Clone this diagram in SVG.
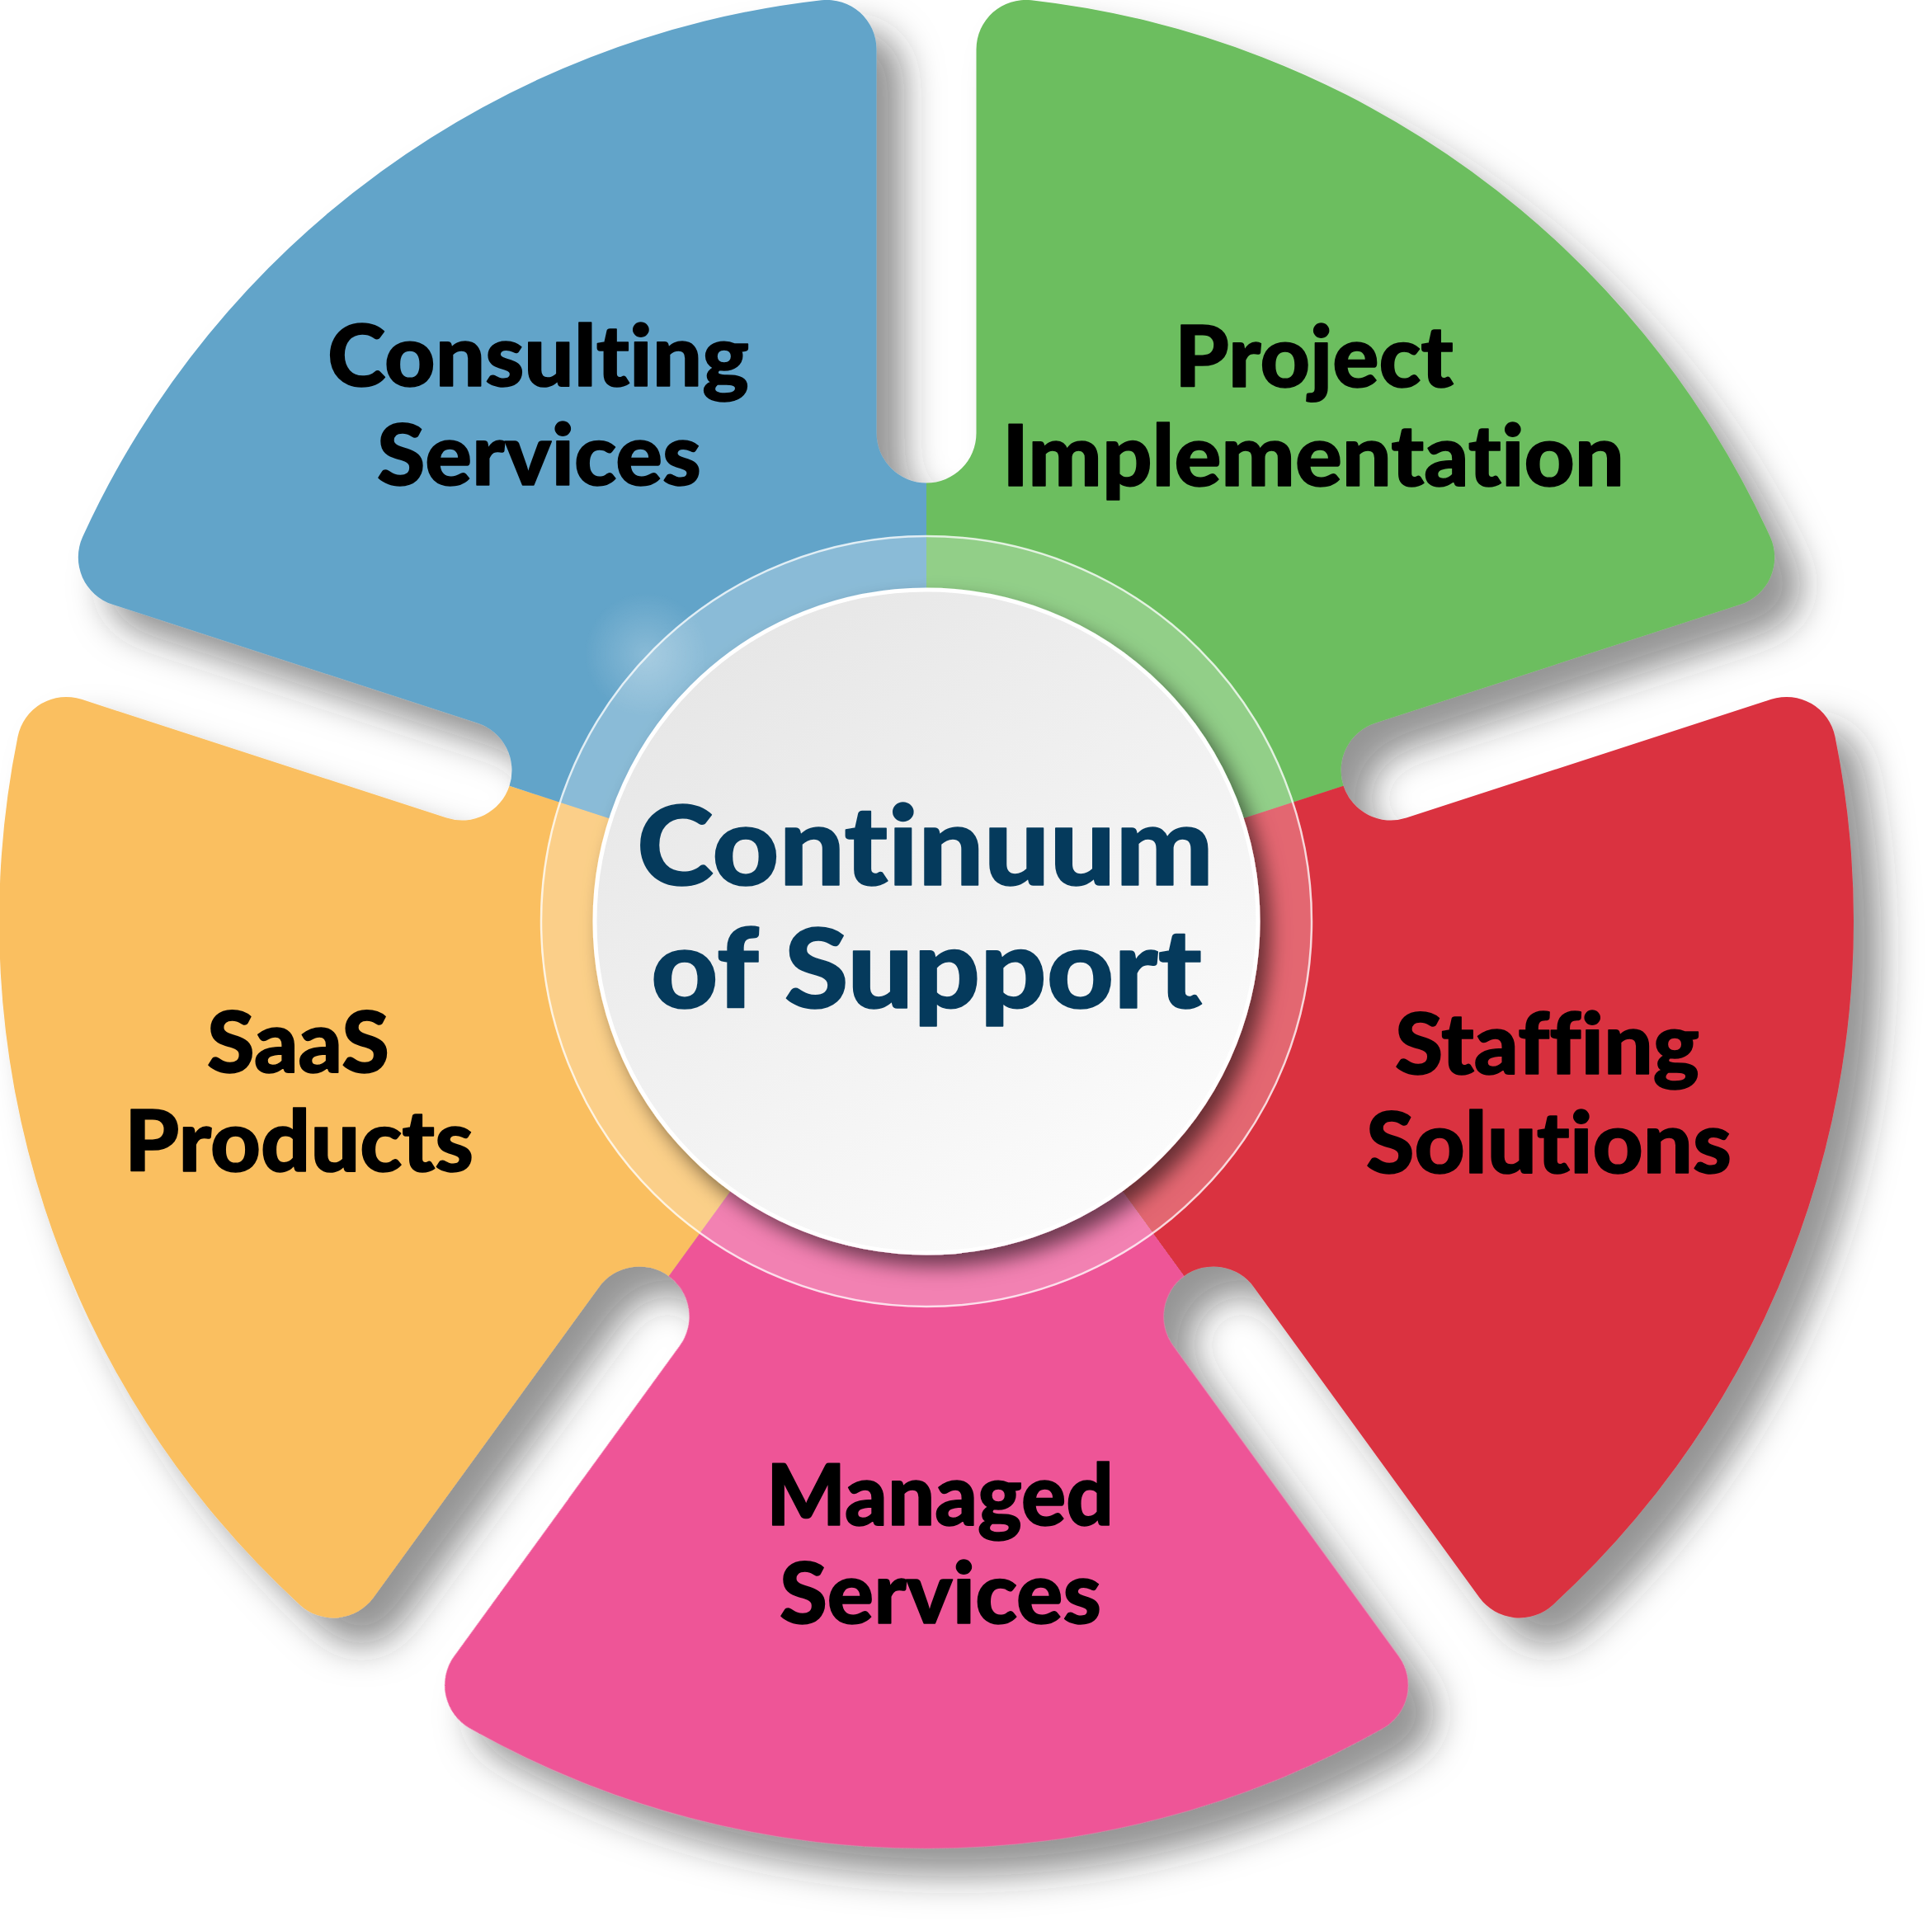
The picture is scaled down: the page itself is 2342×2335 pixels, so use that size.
<svg xmlns="http://www.w3.org/2000/svg" width="2342" height="2335" viewBox="0 0 2342 2335">
  <defs>
    <style>
      text { font-variant-ligatures: none; font-feature-settings: "liga" 0, "clig" 0; }
      .seg-label { font-family: "Lato", "Liberation Sans", sans-serif; font-weight: 900; font-size: 102px; fill: #000000; stroke: #000000; stroke-width: 1.5px; stroke-linejoin: round; }
      .center-label { font-family: "Lato", "Liberation Sans", sans-serif; font-weight: 900; font-size: 134px; fill: #053A5C; stroke: #053A5C; stroke-width: 1.5px; stroke-linejoin: round; }
    </style>
    <path id="wedge" d="M0,0 L0,-531.5 A60.5,60.5 0 0 0 60.5,-592 L60.5,-1057.15 A60,60 0 0 1 127.3,-1116.77 A1124,1124 0 0 1 1022.78,-466.16 A60,60 0 0 1 986.72,-384.22 L544.33,-240.48 A60.5,60.5 0 0 0 505.49,-164.24 Z"/>
    <filter id="segShadow" x="-10%" y="-10%" width="125%" height="125%">
      <feDropShadow dx="34" dy="34" stdDeviation="22" flood-color="#2a2a2a" flood-opacity="0.5"/>
    </filter>
    <filter id="circleShadow" x="-20%" y="-20%" width="140%" height="140%">
      <feDropShadow dx="12" dy="14" stdDeviation="12" flood-color="#000000" flood-opacity="0.55"/>
    </filter>
    <linearGradient id="circleFill" x1="0.2" y1="0.1" x2="0.8" y2="0.95">
      <stop offset="0" stop-color="#E7E7E7"/>
      <stop offset="1" stop-color="#FCFCFC"/>
    </linearGradient>
    <radialGradient id="glow" cx="0.5" cy="0.5" r="0.5">
      <stop offset="0" stop-color="#ffffff" stop-opacity="0.25"/>
      <stop offset="1" stop-color="#ffffff" stop-opacity="0"/>
    </radialGradient>
  </defs>

  <rect x="0" y="0" width="2342" height="2335" fill="#ffffff"/>

  <g id="segments" filter="url(#segShadow)">
    <g id="node-project-implementation">
      <use href="#wedge" transform="translate(1123,1117) rotate(0)" fill="#6CBE5E"/>
    </g>
    <g id="node-staffing-solutions">
      <use href="#wedge" transform="translate(1123,1117) rotate(72)" fill="#DA3140"/>
    </g>
    <g id="node-managed-services">
      <use href="#wedge" transform="translate(1123,1117) rotate(144)" fill="#EE5597"/>
    </g>
    <g id="node-saas-products">
      <use href="#wedge" transform="translate(1123,1117) rotate(216)" fill="#FABF60"/>
    </g>
    <g id="node-consulting-services">
      <use href="#wedge" transform="translate(1123,1117) rotate(288)" fill="#62A4C9"/>
    </g>
  </g>

  <g id="labels">
    <g id="label-consulting-services">
      <text class="seg-label" x="397" y="468" textLength="511" lengthAdjust="spacingAndGlyphs">Consulting</text>
      <text class="seg-label" x="457" y="588" textLength="393" lengthAdjust="spacingAndGlyphs">Services</text>
    </g>
    <g id="label-project-implementation">
      <text class="seg-label" x="1424" y="469" textLength="338" lengthAdjust="spacingAndGlyphs">Project</text>
      <text class="seg-label" x="1215" y="589" textLength="754" lengthAdjust="spacingAndGlyphs">Implementation</text>
    </g>
    <g id="label-saas-products">
      <text class="seg-label" x="251" y="1300" textLength="221" lengthAdjust="spacingAndGlyphs">SaaS</text>
      <text class="seg-label" x="151" y="1420" textLength="423" lengthAdjust="spacingAndGlyphs">Products</text>
    </g>
    <g id="label-staffing-solutions">
      <text class="seg-label" x="1691" y="1302" textLength="369" lengthAdjust="spacingAndGlyphs">Staffing</text>
      <text class="seg-label" x="1656" y="1422" textLength="443" lengthAdjust="spacingAndGlyphs">Solutions</text>
    </g>
    <g id="label-managed-services">
      <text class="seg-label" x="929" y="1849" textLength="421" lengthAdjust="spacingAndGlyphs">Managed</text>
      <text class="seg-label" x="945" y="1968" textLength="390" lengthAdjust="spacingAndGlyphs">Services</text>
    </g>
  </g>

  <g id="ring">
    <circle cx="1123" cy="1117" r="468" fill="#ffffff" fill-opacity="0.26"/>
    <circle cx="1123" cy="1117" r="467" fill="none" stroke="#ffffff" stroke-opacity="0.75" stroke-width="2.5"/>
    <circle cx="783" cy="793" r="75" fill="url(#glow)"/>
  </g>

  <g id="node-center">
    <circle cx="1123" cy="1117" r="402" fill="url(#circleFill)" stroke="#ffffff" stroke-width="5" filter="url(#circleShadow)"/>
    <text class="center-label" x="772" y="1073" textLength="699" lengthAdjust="spacingAndGlyphs">Continuum</text>
    <text class="center-label" x="789" y="1222" textLength="668" lengthAdjust="spacingAndGlyphs">of Support</text>
  </g>
</svg>
